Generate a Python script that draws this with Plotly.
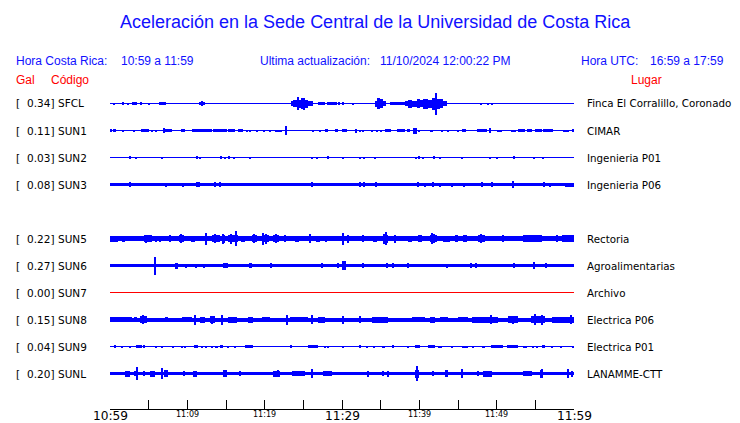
import plotly.graph_objects as go

# ---------------- data ----------------
title_text = "Aceleración en la Sede Central de la Universidad de Costa Rica"
hora_cr = "10:59 a 11:59"
hora_utc = "16:59 a 17:59"
ultima = "11/10/2024 12:00:22 PM"

# stations in row order (SUN4 has no data -> empty row)
codes = ["SFCL", "SUN1", "SUN2", "SUN3", "SUN4", "SUN5", "SUN6", "SUN7", "SUN8", "SUN9", "SUNL"]
gal_values = [0.34, 0.11, 0.03, 0.08, None, 0.22, 0.27, 0.00, 0.15, 0.04, 0.20]
places = ["Finca El Corralillo, Coronado", "CIMAR", "Ingenieria P01", "Ingenieria P06", None,
          "Rectoria", "Agroalimentarias", "Archivo", "Electrica P06", "Electrica P01", "LANAMME-CTT"]
# background noise half-amplitude of each trace (relative units)
noise = [0.5, 0.5, 0.5, 1.7, None, 2.5, 1.5, 0.5, 2.0, 0.5, 1.7]

# minutes after 10:59
tick_minutes = list(range(0, 61, 5))
tick_labels = {0: "10:59", 10: "11:09", 20: "11:19", 30: "11:29", 40: "11:39", 50: "11:49", 60: "11:59"}
major_labels = [0, 30, 60]

# events: (start minute, end minute, half amplitude)
SFCL_events = [
    (0.56, 0.56, 0.7), (1.6, 1.77, 1.3), (2.28, 2.28, 1.0), (2.97, 3.15, 1.2), (3.23, 3.45, 1.2),
    (3.88, 4.1, 1.2), (5.09, 5.09, 0.8), (6.34, 7.24, 1.5), (11.5, 12.28, 1.5), (11.85, 11.85, 2.3),
    (23.36, 23.71, 2.7), (23.71, 24.14, 3.3), (24.14, 24.4, 6.7), (24.4, 24.66, 4.0), (24.66, 25.0, 5.3),
    (25.0, 25.26, 6.0), (25.26, 25.65, 4.0), (25.65, 26.3, 2.3), (26.94, 27.8, 1.5), (28.0, 29.3, 1.3),
    (29.44, 29.74, 1.3), (30.17, 30.17, 1.2), (31.38, 31.38, 0.7),
    (34.27, 34.57, 3.0), (34.57, 34.91, 5.7), (34.91, 35.26, 4.7), (35.26, 35.69, 2.7),
    (36.2, 38.15, 1.3),
    (38.15, 38.58, 2.3), (38.58, 39.0, 4.0), (39.0, 39.66, 3.0), (39.66, 40.09, 4.3), (40.09, 40.52, 3.3),
    (40.52, 41.16, 5.0), (41.16, 41.6, 4.0), (41.6, 42.24, 6.0), (42.24, 42.67, 5.0), (42.67, 43.1, 4.3),
    (43.1, 43.53, 2.5), (42.16, 42.16, 11.0),
    (48.0, 48.0, 0.8), (48.9, 48.9, 1.0), (49.4, 49.4, 0.8),
]
SUN1_events = [
    (0.0, 0.3, 1.3), (0.45, 0.78, 1.3), (1.72, 1.72, 1.0), (3.15, 3.15, 1.0), (3.97, 5.09, 1.3),
    (5.39, 5.39, 0.8), (5.9, 5.9, 1.0), (6.8, 7.97, 1.5), (6.93, 6.93, 2.5), (9.18, 9.7, 1.5),
    (10.56, 13.15, 1.3), (13.36, 15.1, 1.3), (15.3, 16.2, 1.3), (16.6, 17.24, 1.3), (17.67, 17.67, 1.0),
    (18.1, 18.1, 1.0), (18.96, 18.96, 1.0), (19.8, 20.0, 1.0), (20.7, 20.7, 1.0), (21.3, 22.2, 1.0),
    (22.75, 22.93, 4.5), (26.3, 26.3, 0.8), (27.15, 27.15, 0.8), (27.8, 28.2, 1.3), (29.1, 29.5, 1.3),
    (30.0, 30.7, 1.3), (31.8, 31.8, 2.0), (32.3, 32.3, 1.0), (32.76, 32.76, 1.0), (33.75, 34.05, 1.0),
    (34.5, 34.5, 1.0), (35.04, 35.04, 1.0), (35.56, 36.4, 1.3), (37.07, 38.15, 1.3), (38.36, 38.8, 1.3),
    (39.2, 39.65, 3.0), (39.87, 40.1, 1.0), (41.4, 41.8, 1.0), (42.97, 42.97, 1.0), (43.75, 43.75, 1.0),
    (44.96, 44.96, 1.0), (45.5, 46.0, 1.5), (47.5, 48.7, 1.3), (49.0, 49.3, 2.5), (50.0, 50.65, 1.0),
    (51.9, 52.45, 1.0), (52.8, 53.66, 1.3), (53.9, 54.6, 1.3), (54.95, 55.8, 1.5), (56.0, 57.3, 1.3),
    (58.6, 59.3, 1.0), (59.7, 60.0, 1.3),
]
SUN2_events = [
    (2.5, 2.7, 1.3), (3.4, 3.4, 0.7), (6.77, 6.77, 1.0), (11.08, 11.34, 1.3), (11.7, 11.7, 1.0),
    (14.22, 14.52, 1.3), (14.87, 14.87, 0.8), (15.3, 15.5, 1.3), (16.0, 16.0, 0.8), (18.15, 18.15, 1.0),
    (26.08, 26.08, 1.0), (26.8, 26.8, 1.0), (28.15, 28.15, 1.3), (30.2, 30.2, 1.0), (32.37, 32.37, 1.0),
    (32.9, 32.9, 1.0), (34.27, 34.27, 0.8), (39.57, 39.57, 0.8), (39.87, 40.1, 1.3), (40.5, 40.5, 0.8),
    (41.8, 42.0, 1.3), (42.67, 42.67, 0.8), (45.47, 45.47, 1.0), (49.1, 49.1, 1.0), (50.0, 50.2, 0.8),
    (52.15, 52.37, 1.3), (54.83, 54.83, 0.7), (55.95, 56.16, 1.0),
]
SUN3_events = [
    (2.63, 2.63, 2.3), (7.28, 7.28, 2.0), (9.44, 9.44, 2.0), (11.08, 11.7, 2.5), (13.58, 13.58, 2.3),
    (14.22, 14.22, 2.3), (26.08, 26.08, 2.3), (32.37, 32.37, 2.3), (32.9, 32.9, 2.3), (34.35, 34.35, 2.5),
    (39.87, 39.87, 2.5), (40.73, 40.73, 2.0), (41.8, 41.8, 2.3), (42.67, 42.67, 2.0), (44.18, 44.18, 2.0),
    (45.78, 45.78, 2.0), (48.15, 48.15, 2.3), (49.35, 49.35, 2.5), (52.15, 52.15, 3.3), (56.16, 56.16, 2.3),
    (56.9, 56.9, 2.0), (58.9, 60.0, 2.0),
]
SUN5_events = [
    (0.0, 1.07, 3.0), (1.5, 1.94, 3.0), (4.44, 5.39, 3.2), (4.7, 4.7, 4.0), (6.0, 6.0, 3.0), (6.45, 6.45, 3.0),
    (7.76, 7.76, 3.5), (8.92, 9.6, 3.4), (9.2, 9.2, 4.3), (10.47, 10.99, 3.0), (12.3, 12.45, 6.0),
    (13.15, 14.22, 3.4), (13.6, 13.6, 4.5), (14.44, 14.87, 4.0), (14.6, 14.6, 5.0), (15.3, 16.6, 3.8),
    (15.7, 15.7, 5.0), (16.25, 16.25, 7.5), (17.0, 17.46, 3.0), (18.32, 18.97, 3.4), (18.6, 18.6, 4.3),
    (19.6, 20.56, 3.8), (19.83, 19.83, 6.0), (20.2, 20.2, 5.0), (21.1, 21.85, 3.4), (21.5, 21.5, 4.3),
    (22.63, 22.63, 3.5), (23.9, 24.4, 3.0), (25.8, 25.95, 4.5), (26.7, 27.15, 3.0), (28.0, 28.0, 3.0),
    (30.1, 30.3, 6.0), (30.73, 30.73, 4.0), (32.76, 32.76, 3.5), (34.05, 34.48, 3.0), (35.26, 35.9, 4.0),
    (35.69, 35.69, 6.3), (35.45, 35.45, 5.0), (36.85, 36.85, 4.0), (38.58, 39.0, 3.0), (39.87, 40.3, 3.2),
    (41.4, 42.25, 3.6), (41.6, 41.6, 5.5), (41.9, 41.9, 4.5), (43.1, 43.96, 3.0), (44.6, 45.04, 3.2),
    (45.7, 46.12, 3.2), (47.6, 48.5, 3.5), (48.0, 48.0, 4.3), (50.86, 50.86, 3.5), (53.45, 55.8, 3.2),
    (57.75, 57.75, 3.3), (58.5, 60.0, 3.1),
]
SUN6_events = [
    (5.86, 5.86, 9.0), (8.53, 8.75, 3.0), (9.9, 9.9, 2.0), (11.08, 11.08, 2.0), (12.15, 12.15, 2.0),
    (14.66, 15.2, 2.3), (17.97, 18.32, 2.3), (20.78, 20.78, 2.5), (27.37, 27.37, 2.3), (29.5, 29.5, 2.3),
    (30.0, 30.47, 4.5), (32.76, 32.76, 2.3), (35.78, 35.78, 2.3), (36.64, 36.64, 2.3), (38.58, 38.58, 2.3),
    (43.53, 43.53, 2.0), (46.64, 46.64, 2.3), (47.28, 47.28, 2.3), (52.24, 52.24, 2.5), (54.9, 54.9, 3.5),
    (56.34, 56.34, 2.3),
]
SUN7_events = []
SUN8_events = [
    (0.0, 2.8, 2.5), (3.23, 3.45, 2.7), (3.88, 4.74, 3.3), (4.22, 4.22, 4.7), (7.11, 7.54, 2.6),
    (9.27, 10.56, 2.7), (10.9, 11.08, 5.0), (11.64, 12.28, 3.0), (12.93, 13.58, 3.3), (13.2, 13.2, 4.0),
    (14.44, 14.44, 5.0), (15.3, 16.38, 3.0), (17.89, 18.54, 3.0), (19.6, 20.7, 2.7), (22.84, 22.97, 5.0),
    (23.27, 25.65, 2.7), (26.08, 26.3, 4.3), (26.94, 27.8, 3.0), (30.08, 30.3, 4.0), (32.3, 32.3, 3.5),
    (33.83, 36.0, 3.0), (39.0, 40.73, 2.7), (41.38, 42.03, 3.0), (42.67, 43.75, 2.7), (45.04, 46.33, 2.7),
    (46.76, 50.2, 3.0), (49.22, 49.22, 4.3), (51.5, 52.8, 3.2), (52.15, 52.15, 4.0), (54.5, 56.25, 3.3),
    (54.95, 54.95, 5.5), (55.9, 55.9, 5.0), (57.1, 60.0, 3.0), (59.6, 59.6, 4.5),
]
SUN9_events = [
    (0.52, 0.78, 1.3), (1.5, 1.5, 1.0), (2.59, 2.59, 1.0), (3.36, 4.1, 1.3), (4.31, 4.53, 1.3),
    (5.95, 5.95, 1.0), (6.77, 6.77, 1.0), (8.19, 8.19, 1.0), (9.35, 9.35, 1.0), (9.7, 9.7, 1.0),
    (10.9, 11.34, 1.5), (11.85, 11.85, 1.0), (12.37, 12.37, 1.0), (13.15, 13.15, 1.0), (13.58, 13.92, 1.0),
    (14.22, 14.66, 1.5), (15.3, 15.3, 1.0), (16.16, 16.16, 1.0), (17.46, 18.54, 1.3), (23.36, 23.58, 1.3),
    (25.65, 26.94, 1.3), (27.8, 27.8, 1.0), (28.23, 28.23, 1.0), (30.17, 30.17, 1.0), (32.2, 32.46, 1.5),
    (33.19, 33.19, 1.0), (34.18, 34.18, 1.0), (35.13, 35.56, 1.0), (36.42, 36.77, 1.3), (38.49, 38.49, 1.0),
    (39.44, 40.1, 1.5), (41.1, 42.0, 1.5), (42.46, 42.89, 1.0), (44.18, 44.18, 1.0), (45.47, 46.33, 1.0),
    (46.98, 46.98, 1.0), (48.06, 48.49, 1.0), (49.27, 50.86, 1.5), (51.3, 52.8, 1.5), (53.45, 53.88, 1.0),
    (54.65, 54.65, 1.0), (55.17, 55.17, 1.0), (55.8, 56.25, 1.3), (57.1, 57.33, 1.0), (58.32, 58.32, 1.0),
    (59.9, 59.9, 1.0),
]
SUNL_events = [
    (1.94, 2.59, 3.0), (3.23, 3.23, 2.7), (3.53, 3.53, 6.7), (4.31, 4.53, 2.7), (5.17, 5.82, 3.0),
    (6.77, 6.77, 5.3), (7.03, 7.54, 3.5), (9.61, 9.61, 2.7), (10.77, 11.2, 3.0), (14.66, 15.1, 3.5),
    (14.96, 14.96, 3.3), (16.81, 16.81, 2.7), (21.12, 21.98, 3.0), (21.77, 21.77, 3.7), (23.49, 25.22, 2.5),
    (26.08, 26.08, 4.5), (27.58, 28.66, 2.7), (33.4, 33.4, 3.0), (35.35, 35.35, 2.5), (35.9, 35.9, 3.0),
    (39.44, 39.96, 4.0), (39.74, 39.74, 7.5), (41.81, 41.81, 2.7), (43.3, 43.75, 3.3), (45.47, 45.47, 4.5),
    (47.63, 47.63, 2.7), (48.28, 49.35, 3.0), (53.45, 54.53, 2.7), (55.6, 56.0, 4.0), (55.9, 55.9, 4.5),
    (59.27, 59.27, 4.8), (59.7, 59.7, 3.0),
]
events = {
    "SFCL": SFCL_events, "SUN1": SUN1_events, "SUN2": SUN2_events, "SUN3": SUN3_events,
    "SUN5": SUN5_events, "SUN6": SUN6_events, "SUN7": SUN7_events, "SUN8": SUN8_events,
    "SUN9": SUN9_events, "SUNL": SUNL_events,
}
trace_colors = {"SUN7": "#ff0000"}

# ---------------- layout geometry ----------------
W, H = 740, 423
L, R, T, B = 110, 166, 88, 14
PW, PH = W - L - R, H - T - B
ROW_PX = 27.0                  # pixels between rows
ROW0_PX = 103.5                # first row centre (pixels from top)
AMP = 1.0 / ROW_PX             # amplitude unit -> row units
ymax = (ROW0_PX - T) / ROW_PX
ymin = ymax - PH / ROW_PX
XMIN, XMAX = 0, 60
MIN_W = 0.15


def px2paper(px):
    return (px - L) / PW


def py2paper(py):
    return (T + PH - py) / PH


BLUE = "#0000ff"
TXT_BLUE = "#1010ff"
RED = "#ff0000"

fig = go.Figure()
annotations = []

for i, code in enumerate(codes):
    if gal_values[i] is None:
        continue
    row = -i
    color = trace_colors.get(code, BLUE)
    # background trace
    fig.add_trace(go.Bar(
        x=[(XMIN + XMAX) / 2], width=[XMAX - XMIN],
        base=[row - noise[i] * AMP], y=[2 * noise[i] * AMP],
        marker=dict(color=color, line=dict(width=0)), showlegend=False, hoverinfo="skip"))
    ev = events[code]
    if ev:
        xs = [(a + b) / 2 for a, b, _ in ev]
        ws = [max(b - a, MIN_W) for a, b, _ in ev]
        bs = [row - amp * AMP for _, _, amp in ev]
        hs = [2 * amp * AMP for _, _, amp in ev]
        fig.add_trace(go.Bar(x=xs, width=ws, base=bs, y=hs,
                             marker=dict(color=color, line=dict(width=0)),
                             showlegend=False, hoverinfo="skip"))
    # left labels
    ty = py2paper(ROW0_PX + ROW_PX * i)
    lab_font = dict(family="DejaVu Sans", size=10.5, color="black")
    annotations.append(dict(x=px2paper(13.5), y=ty, xref="paper", yref="paper", text="[",
                            xanchor="left", yanchor="middle", showarrow=False, font=lab_font))
    annotations.append(dict(x=px2paper(55.5), y=ty, xref="paper", yref="paper",
                            text=f"{gal_values[i]:.2f}]", xanchor="right", yanchor="middle",
                            showarrow=False, font=lab_font))
    annotations.append(dict(x=px2paper(55.5), y=ty, xref="paper", yref="paper", text=code,
                            xanchor="left", yanchor="middle", showarrow=False, font=lab_font))
    annotations.append(dict(x=px2paper(584.5), y=ty, xref="paper", yref="paper", text=places[i],
                            xanchor="left", yanchor="middle", showarrow=False,
                            font=dict(family="DejaVu Sans", size=10.3, color="black")))

# tick labels
for m, lab in tick_labels.items():
    big = m in major_labels
    annotations.append(dict(x=m, y=py2paper(415.5 if big else 414.8),
                            xref="x", yref="paper",
                            text=lab, xanchor="center", yanchor="middle", showarrow=False,
                            font=dict(family="DejaVu Sans", size=12.2 if big else 8, color="black")))

# header texts
hdr = dict(family="Liberation Sans, Arial", size=12, color=TXT_BLUE)
annotations += [
    dict(x=px2paper(375), y=py2paper(22), text=title_text, font=dict(family="Liberation Sans, Arial", size=18, color=TXT_BLUE), xanchor="center"),
    dict(x=px2paper(13.5), y=py2paper(61), text="Hora Costa Rica:", font=hdr, xanchor="left"),
    dict(x=px2paper(118.5), y=py2paper(61), text=hora_cr, font=hdr, xanchor="left"),
    dict(x=px2paper(258), y=py2paper(61), text="Ultima actualización:", font=hdr, xanchor="left"),
    dict(x=px2paper(377.5), y=py2paper(61), text=ultima, font=hdr, xanchor="left"),
    dict(x=px2paper(578.5), y=py2paper(61), text="Hora UTC:", font=hdr, xanchor="left"),
    dict(x=px2paper(648), y=py2paper(61), text=hora_utc, font=hdr, xanchor="left"),
    dict(x=px2paper(13.5), y=py2paper(80.5), text="Gal", font=dict(hdr, color=RED), xanchor="left"),
    dict(x=px2paper(48.5), y=py2paper(80.5), text="Código", font=dict(hdr, color=RED), xanchor="left"),
    dict(x=px2paper(629), y=py2paper(80.5), text="Lugar", font=dict(hdr, color=RED), xanchor="left"),
]
for a in annotations[-10:]:
    a.update(xref="paper", yref="paper", yanchor="middle", showarrow=False)

fig.update_layout(
    width=W, height=H,
    margin=dict(l=L, r=R, t=T, b=B, pad=0),
    paper_bgcolor="white", plot_bgcolor="white",
    barmode="overlay", bargap=0,
    showlegend=False, hovermode=False,
    annotations=annotations,
    xaxis=dict(range=[XMIN, XMAX], showline=True, linecolor="black", linewidth=1,
               ticks="inside", ticklen=9, tickcolor="black", tickwidth=1,
               tickvals=tick_minutes, showticklabels=False, showgrid=False, zeroline=False,
               fixedrange=True),
    yaxis=dict(range=[ymin, ymax], visible=False, showgrid=False, zeroline=False, fixedrange=True),
)

fig.write_html("out.html", config={"displayModeBar": False},
               post_script="document.body.style.margin='0';document.body.style.overflow='hidden';")
